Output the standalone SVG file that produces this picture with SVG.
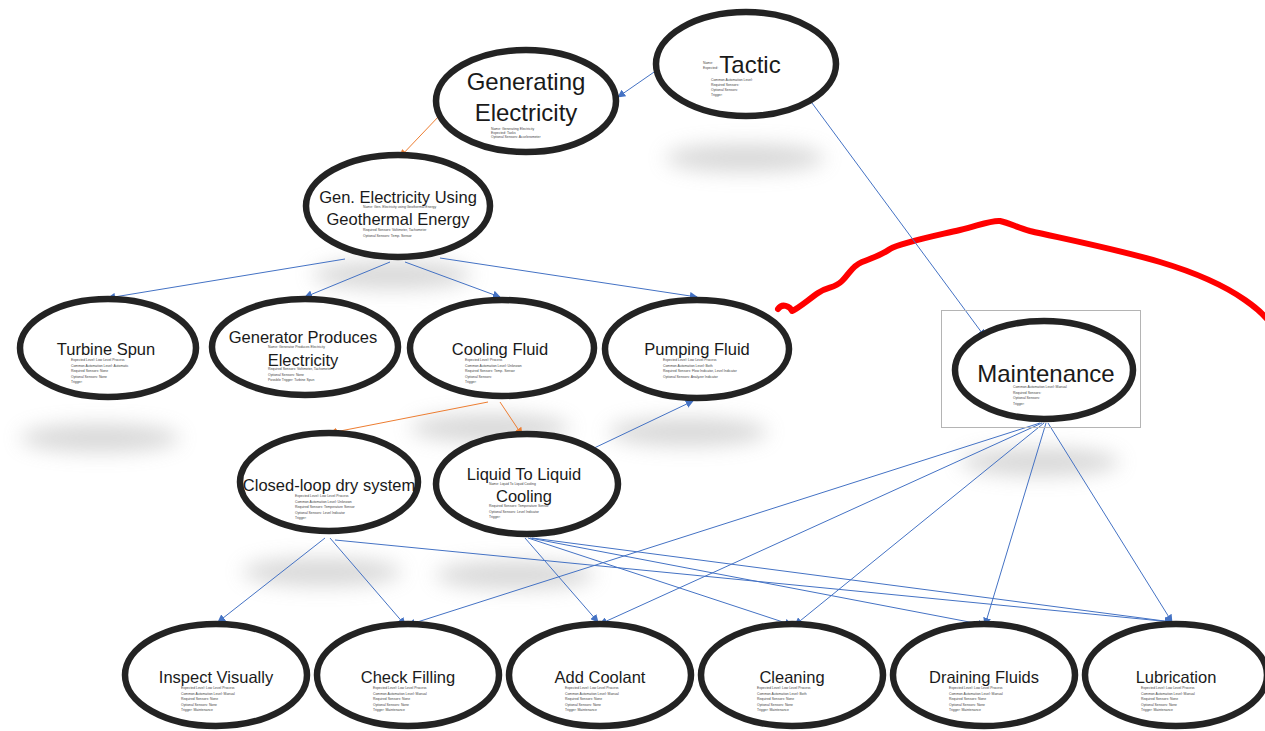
<svg xmlns="http://www.w3.org/2000/svg" width="1265" height="731" viewBox="0 0 1265 731">
  <defs>
    <style>
      .node { fill: #ffffff; stroke: #232323; stroke-width: 6.5; }
      .title { font-family: "Liberation Sans", Arial, sans-serif; fill: #1a1a1a; text-anchor: middle; }
      .big { font-size: 24px; }
      .mid { font-size: 16.5px; }
      .info { font-family: "Liberation Sans", Arial, sans-serif; font-size: 3.4px; fill: #444; }
      .blue { stroke: #4472C4; stroke-width: 1; fill: none; marker-end: url(#arrowBlue); }
      .orange { stroke: #ED7D31; stroke-width: 1; fill: none; marker-end: url(#arrowOrange); }
      .shadow { fill: #9a9a9a; opacity: 0.38; filter: url(#soft); }
    </style>
    <marker id="arrowBlue" viewBox="0 0 10 10" refX="9" refY="5" markerWidth="8" markerHeight="8" orient="auto" markerUnits="userSpaceOnUse">
      <path d="M0,0 L10,5 L0,10 Z" fill="#4472C4"/>
    </marker>
    <marker id="arrowOrange" viewBox="0 0 10 10" refX="9" refY="5" markerWidth="8" markerHeight="8" orient="auto" markerUnits="userSpaceOnUse">
      <path d="M0,0 L10,5 L0,10 Z" fill="#ED7D31"/>
    </marker>
    <filter id="soft" x="-50%" y="-100%" width="200%" height="300%">
      <feGaussianBlur stdDeviation="10"/>
    </filter>
  </defs>

  <rect width="1265" height="731" fill="#ffffff"/>

  <!-- soft floor shadows -->
  <g id="shadows">
    <ellipse class="shadow" cx="745" cy="158" rx="80" ry="14"/>
    <ellipse class="shadow" cx="392" cy="275" rx="80" ry="14"/>
    <ellipse class="shadow" cx="100" cy="438" rx="80" ry="14"/>
    <ellipse class="shadow" cx="490" cy="428" rx="80" ry="14"/>
    <ellipse class="shadow" cx="688" cy="432" rx="80" ry="14"/>
    <ellipse class="shadow" cx="1040" cy="462" rx="80" ry="14"/>
    <ellipse class="shadow" cx="322" cy="572" rx="80" ry="14"/>
    <ellipse class="shadow" cx="515" cy="575" rx="80" ry="14"/>
  </g>

  <!-- freehand red stroke -->
  <path d="M778,309 C782,303 790,306 792,311 C796,310 808,300 818,293 C828,286 834,289 842,281 C850,273 852,266 862,262 C872,258 880,256 890,249 C900,243 930,237 960,230 C980,225 992,220 1000,221 C1010,223 1018,228 1030,231 C1070,240 1120,250 1160,262 C1200,274 1225,286 1245,300 C1255,307 1262,313 1266,318" fill="none" stroke="#ff0000" stroke-width="6" stroke-linecap="round" stroke-linejoin="round"/>

  <!-- connectors -->
  <g id="connectors">
    <line class="blue" x1="657" y1="70" x2="618" y2="97"/>
    <line class="orange" x1="440" y1="115" x2="400" y2="157"/>
    <line class="blue" x1="812" y1="103" x2="985" y2="337"/>
    <line class="blue" x1="345" y1="259" x2="108" y2="298"/>
    <line class="blue" x1="390" y1="262" x2="305" y2="297"/>
    <line class="blue" x1="405" y1="262" x2="500" y2="297"/>
    <line class="blue" x1="440" y1="258" x2="697" y2="297"/>
    <line class="orange" x1="488" y1="402" x2="330" y2="433"/>
    <line class="orange" x1="500" y1="402" x2="522" y2="435"/>
    <line class="blue" x1="590" y1="450" x2="693" y2="401"/>
    <line class="blue" x1="325" y1="538" x2="218" y2="622"/>
    <line class="blue" x1="330" y1="538" x2="405" y2="625"/>
    <line class="blue" x1="335" y1="540" x2="1172" y2="622"/>
    <line class="blue" x1="525" y1="538" x2="598" y2="622"/>
    <line class="blue" x1="528" y1="538" x2="792" y2="625"/>
    <line class="blue" x1="530" y1="538" x2="985" y2="625"/>
    <line class="blue" x1="532" y1="538" x2="1172" y2="622"/>
    <line class="blue" x1="1040" y1="423" x2="408" y2="625"/>
    <line class="blue" x1="1042" y1="423" x2="600" y2="624"/>
    <line class="blue" x1="1044" y1="423" x2="795" y2="625"/>
    <line class="blue" x1="1046" y1="423" x2="985" y2="625"/>
    <line class="blue" x1="1048" y1="423" x2="1172" y2="622"/>
  </g>

  <g id="generating-electricity">
    <ellipse class="node" cx="526" cy="101" rx="90" ry="51"/>
    <text class="info" x="491" y="129.5">Name: Generating Electricity<tspan x="491" dy="4.2">Expected: Tasks</tspan><tspan x="491" dy="4.2">Optional Sensors: Accelerometer</tspan></text>
    <text class="title big" x="526" y="90">Generating</text>
    <text class="title big" x="526" y="121">Electricity</text>
  </g>

  <g id="tactic">
    <ellipse class="node" cx="746" cy="64" rx="90" ry="52"/>
    <text class="info" x="711" y="81">Common Automation Level:<tspan x="711" dy="5">Required Sensors:</tspan><tspan x="711" dy="5">Optional Sensors:</tspan><tspan x="711" dy="5">Trigger:</tspan></text>
    <text class="info" x="703" y="64">Name:<tspan x="703" dy="5">Expected:</tspan></text>
    <text class="title big" x="750" y="73">Tactic</text>
  </g>

  <g id="geothermal">
    <ellipse class="node" cx="398" cy="206" rx="92" ry="51"/>
    <text class="info" x="363" y="208">Name: Gen. Electricity using Geothermal Energy</text>
    <text class="info" x="363" y="231">Required Sensors: Voltimeter, Tachometer<tspan x="363" dy="5.5">Optional Sensors: Temp. Sensor</tspan></text>
    <text class="title mid" x="398" y="203">Gen. Electricity Using</text>
    <text class="title mid" x="398" y="225">Geothermal Energy</text>
  </g>

  <g id="turbine-spun">
    <ellipse class="node" cx="108" cy="348" rx="88" ry="49"/>
    <text class="info" x="71" y="361">Expected Level: Low Level Process<tspan x="71" dy="5.5">Common Automation Level: Automatic</tspan><tspan x="71" dy="5.5">Required Sensors: None</tspan><tspan x="71" dy="5.5">Optional Sensors: None</tspan><tspan x="71" dy="5.5">Trigger:</tspan></text>
    <text class="title mid" x="106" y="355">Turbine Spun</text>
  </g>

  <g id="generator-produces">
    <ellipse class="node" cx="305" cy="347" rx="93" ry="48"/>
    <text class="info" x="268" y="348">Name: Generator Produces Electricity</text>
    <text class="info" x="268" y="370">Required Sensors: Voltimeter, Tachometer<tspan x="268" dy="5.5">Optional Sensors: None</tspan><tspan x="268" dy="5.5">Possible Trigger: Turbine Spun</tspan></text>
    <text class="title mid" x="303" y="343">Generator Produces</text>
    <text class="title mid" x="303" y="366">Electricity</text>
  </g>

  <g id="cooling-fluid">
    <ellipse class="node" cx="502" cy="348" rx="92" ry="48"/>
    <text class="info" x="465" y="361">Expected Level: Process<tspan x="465" dy="5.5">Common Automation Level: Unknown</tspan><tspan x="465" dy="5.5">Required Sensors: Temp. Sensor</tspan><tspan x="465" dy="5.5">Optional Sensors:</tspan><tspan x="465" dy="5.5">Trigger:</tspan></text>
    <text class="title mid" x="500" y="355">Cooling Fluid</text>
  </g>

  <g id="pumping-fluid">
    <ellipse class="node" cx="697" cy="349" rx="92" ry="49"/>
    <text class="info" x="663" y="361">Expected Level: Low Level Process<tspan x="663" dy="5.5">Common Automation Level: Both</tspan><tspan x="663" dy="5.5">Required Sensors: Flow Indicator, Level Indicator</tspan><tspan x="663" dy="5.5">Optional Sensors: Analyzer Indicator</tspan></text>
    <text class="title mid" x="697" y="355">Pumping Fluid</text>
  </g>

  <g id="maintenance">
    <rect x="941.5" y="310.5" width="199" height="117" fill="none" stroke="#b4b4b4" stroke-width="1"/>
    <ellipse class="node" cx="1044" cy="370" rx="89" ry="49"/>
    <text class="info" x="1013" y="388">Common Automation Level: Manual<tspan x="1013" dy="5.5">Required Sensors:</tspan><tspan x="1013" dy="5.5">Optional Sensors:</tspan><tspan x="1013" dy="5.5">Trigger:</tspan></text>
    <text class="title big" x="1046" y="382">Maintenance</text>
  </g>

  <g id="closed-loop">
    <ellipse class="node" cx="329" cy="482" rx="89" ry="49"/>
    <text class="info" x="295" y="497">Expected Level: Low Level Process<tspan x="295" dy="5.5">Common Automation Level: Unknown</tspan><tspan x="295" dy="5.5">Required Sensors: Temperature Sensor</tspan><tspan x="295" dy="5.5">Optional Sensors: Level Indicator</tspan><tspan x="295" dy="5.5">Trigger:</tspan></text>
    <text class="title mid" x="329" y="491">Closed-loop dry system</text>
  </g>

  <g id="liquid-to-liquid">
    <ellipse class="node" cx="527" cy="484" rx="91" ry="50"/>
    <text class="info" x="489" y="485">Name: Liquid To Liquid Cooling</text>
    <text class="info" x="489" y="507">Required Sensors: Temperature Sensor<tspan x="489" dy="5.5">Optional Sensors: Level Indicator</tspan><tspan x="489" dy="5.5">Trigger:</tspan></text>
    <text class="title mid" x="524" y="480">Liquid To Liquid</text>
    <text class="title mid" x="524" y="502">Cooling</text>
  </g>

  <g id="inspect-visually">
    <ellipse class="node" cx="216" cy="675" rx="91" ry="51"/>
    <text class="info" x="181" y="689">Expected Level: Low Level Process<tspan x="181" dy="5.5">Common Automation Level: Manual</tspan><tspan x="181" dy="5.5">Required Sensors: None</tspan><tspan x="181" dy="5.5">Optional Sensors: None</tspan><tspan x="181" dy="5.5">Trigger: Maintenance</tspan></text>
    <text class="title mid" x="216" y="683">Inspect Visually</text>
  </g>

  <g id="check-filling">
    <ellipse class="node" cx="408" cy="675" rx="91" ry="51"/>
    <text class="info" x="373" y="689">Expected Level: Low Level Process<tspan x="373" dy="5.5">Common Automation Level: Manual</tspan><tspan x="373" dy="5.5">Required Sensors: None</tspan><tspan x="373" dy="5.5">Optional Sensors: None</tspan><tspan x="373" dy="5.5">Trigger: Maintenance</tspan></text>
    <text class="title mid" x="408" y="683">Check Filling</text>
  </g>

  <g id="add-coolant">
    <ellipse class="node" cx="600" cy="675" rx="91" ry="51"/>
    <text class="info" x="565" y="689">Expected Level: Low Level Process<tspan x="565" dy="5.5">Common Automation Level: Manual</tspan><tspan x="565" dy="5.5">Required Sensors: None</tspan><tspan x="565" dy="5.5">Optional Sensors: None</tspan><tspan x="565" dy="5.5">Trigger: Maintenance</tspan></text>
    <text class="title mid" x="600" y="683">Add Coolant</text>
  </g>

  <g id="cleaning">
    <ellipse class="node" cx="792" cy="675" rx="91" ry="51"/>
    <text class="info" x="757" y="689">Expected Level: Low Level Process<tspan x="757" dy="5.5">Common Automation Level: Both</tspan><tspan x="757" dy="5.5">Required Sensors: None</tspan><tspan x="757" dy="5.5">Optional Sensors: None</tspan><tspan x="757" dy="5.5">Trigger: Maintenance</tspan></text>
    <text class="title mid" x="792" y="683">Cleaning</text>
  </g>

  <g id="draining-fluids">
    <ellipse class="node" cx="984" cy="675" rx="91" ry="51"/>
    <text class="info" x="949" y="689">Expected Level: Low Level Process<tspan x="949" dy="5.5">Common Automation Level: Manual</tspan><tspan x="949" dy="5.5">Required Sensors: None</tspan><tspan x="949" dy="5.5">Optional Sensors: None</tspan><tspan x="949" dy="5.5">Trigger: Maintenance</tspan></text>
    <text class="title mid" x="984" y="683">Draining Fluids</text>
  </g>

  <g id="lubrication">
    <ellipse class="node" cx="1176" cy="675" rx="91" ry="51"/>
    <text class="info" x="1141" y="689">Expected Level: Low Level Process<tspan x="1141" dy="5.5">Common Automation Level: Manual</tspan><tspan x="1141" dy="5.5">Required Sensors: None</tspan><tspan x="1141" dy="5.5">Optional Sensors: None</tspan><tspan x="1141" dy="5.5">Trigger: Maintenance</tspan></text>
    <text class="title mid" x="1176" y="683">Lubrication</text>
  </g>
</svg>
